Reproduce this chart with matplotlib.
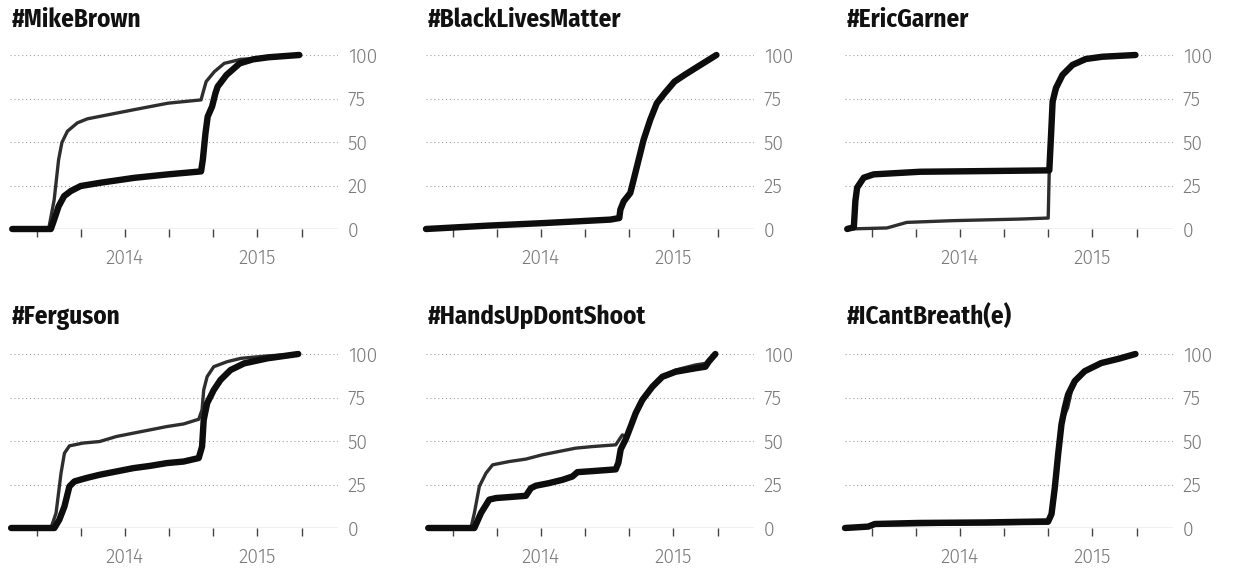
import matplotlib
matplotlib.use("Agg")
import matplotlib.pyplot as plt

# x values are months counted from Jan 2014 (0 = Jan 2014, 12 = Jan 2015)
titles = ["#MikeBrown", "#BlackLivesMatter", "#EricGarner",
          "#Ferguson", "#HandsUpDontShoot", "#ICantBreath(e)"]

ytick_vals = [0, 25, 50, 75, 100]
ytick_labels_mb = ["0", "20", "50", "75", "100"]
ytick_labels = ["0", "25", "50", "75", "100"]
xtick_vals = [-8, -4, 0, 4, 8, 12, 16]
xtick_labels = ["", "", "2014", "", "", "2015", ""]

# #MikeBrown
mb_thin_x = [-10.2, -6.9, -6.4, -6.0, -5.7, -5.2, -4.3, -3.4, -2.2, 0.85, 3.9, 6.9,
             7.06, 7.36, 8.1, 9.0, 10.5, 11.8, 13.0, 15.8]
mb_thin_y = [0, 0, 16.8, 39.8, 49.7, 56.2, 61.0, 63.3, 64.8, 68.6, 72.3, 74.2,
             78.0, 84.7, 90.4, 95.2, 97.5, 98.0, 98.7, 100]
mb_thick_x = [-10.2, -6.7, -6.4, -6.0, -5.5, -4.9, -4.0, -2.2, 0.85, 3.9, 6.9,
              7.06, 7.3, 7.5, 7.9, 8.2, 8.4, 9.2, 10.4, 11.6, 13.0, 15.8]
mb_thick_y = [0, 0, 5.4, 13.0, 18.9, 21.8, 24.7, 26.6, 29.4, 31.4, 33.1,
              39.8, 55.0, 64.6, 70.4, 78.0, 81.8, 88.5, 95.2, 97.5, 98.7, 100]

# #BlackLivesMatter
blm_thin_x = [-10.4, -4.9, 0.24, 3.3, 6.3, 7.1, 7.2, 7.5, 8.1, 8.7, 9.3, 9.9,
              10.5, 11.2, 12.1, 13.0, 14.2, 15.9]
blm_thin_y = [0, 1.9, 3.4, 4.4, 5.4, 6.3, 11.1, 15.9, 20.7, 35.9, 51.2, 62.7,
              72.3, 78.0, 84.7, 88.5, 93.3, 100]
blm_thick_x = [-10.4, -4.9, 0.24, 3.3, 6.3, 7.1, 7.2, 7.5, 8.1, 8.7, 9.3, 9.9,
               10.5, 11.2, 12.1, 13.0, 14.2, 15.9]
blm_thick_y = [0, 1.9, 3.4, 4.4, 5.4, 6.3, 11.1, 15.9, 20.7, 35.9, 51.2, 62.7,
               72.3, 78.0, 84.7, 88.5, 93.3, 100]

# #EricGarner
eg_thin_x = [-10.2, -6.6, -4.8, -0.6, 5.4, 8.0, 8.1, 8.26, 8.4, 8.56, 9.0, 9.6,
             10.5, 12.0, 15.9]
eg_thin_y = [0, 0.6, 3.8, 4.8, 5.7, 6.3, 35.0, 54.3, 69.5, 75.2, 84.8, 91.4,
             95.2, 98.1, 100]
eg_thick_x = [-10.2, -9.6, -9.46, -9.3, -8.7, -7.8, -3.6, 2.4, 8.1, 8.26, 8.4,
              8.7, 9.3, 10.2, 11.4, 12.9, 15.9]
eg_thick_y = [0, 1.0, 16.2, 23.8, 29.5, 31.4, 32.9, 33.3, 33.7, 54.3, 73.3,
              81.0, 88.6, 94.3, 97.7, 99.0, 100]

# #Ferguson
fe_thin_x = [-10.3, -6.69, -6.23, -5.78, -5.47, -5.02, -3.8, -2.28, -0.76, 0.76,
             2.28, 3.8, 5.32, 6.69, 6.99, 7.14, 7.45, 8.05, 9.27, 10.5, 12.9, 15.7]
fe_thin_y = [0, 0, 8.6, 31.5, 43.0, 47.2, 48.8, 49.7, 52.6, 54.5, 56.4, 58.3,
             59.8, 62.5, 67.9, 79.3, 87.0, 92.7, 95.6, 97.5, 98.9, 100]
fe_thick_x = [-10.3, -6.38, -5.93, -5.47, -5.02, -4.56, -3.5, -2.28, -0.76, 0.76,
              2.28, 3.8, 5.32, 6.69, 6.99, 7.14, 7.45, 8.05, 8.66, 9.57, 10.8,
              12.9, 15.7]
fe_thick_y = [0, 0, 4.8, 12.4, 23.9, 26.8, 28.7, 30.6, 32.5, 34.4, 35.7, 37.3,
              38.2, 40.2, 46.8, 62.1, 71.7, 79.3, 85.1, 90.8, 94.6, 97.5, 100]

# #HandsUpDontShoot
hu_thin_x = [-10.2, -6.33, -6.02, -5.57, -4.97, -4.37, -2.86, -1.36, 0.15, 1.66,
             3.16, 4.67, 6.78, 7.38, 7.83, 8.13, 8.58, 9.19, 10.1, 11.0, 12.2,
             14.0, 14.9, 15.8]
hu_thin_y = [0, 0, 8.6, 23.9, 31.5, 36.3, 38.2, 39.6, 42.1, 44.0, 45.9, 46.8,
             47.8, 53.5, 52.0, 58.3, 65.9, 73.6, 81.2, 86.9, 90.8, 93.7, 94.6, 100]
hu_thick_x = [-10.2, -6.02, -5.42, -4.67, -4.07, -1.36, -0.9, -0.45, 0.75, 1.96,
              2.86, 3.31, 4.67, 6.78, 7.02, 7.23, 7.68, 8.13, 8.58, 9.19, 10.1,
              11.0, 12.2, 14.0, 14.9, 15.2, 15.8]
hu_thick_y = [0, 0, 8.6, 16.3, 17.2, 18.5, 22.9, 24.3, 25.8, 27.7, 29.6, 32.1,
              32.7, 33.7, 37.5, 45.2, 50.9, 58.3, 65.9, 73.6, 81.2, 86.9, 89.8,
              91.8, 92.7, 95.6, 100]

# #ICantBreath(e)
ic_thin_x = [-10.4, -8.3, -7.7, 8.0, 8.3, 8.76, 9.06, 9.37, 9.76, 10.1, 10.7,
             11.6, 12.8, 14.4, 15.9]
ic_thin_y = [0, 0.4, 1.7, 2.7, 9.9, 34.7, 53.8, 63.4, 69.1, 78.6, 86.3, 91.6,
             95.2, 97.7, 100]
ic_thick_x = [-10.4, -8.3, -7.7, -3.8, 2.27, 8.0, 8.3, 8.6, 8.9, 9.2, 9.5, 9.8,
              10.4, 11.3, 12.8, 14.4, 15.9]
ic_thick_y = [0, 0.8, 2.3, 2.9, 3.2, 3.8, 8.0, 23.3, 42.4, 59.5, 69.1, 76.7,
              84.4, 90.1, 94.8, 97.3, 100]

panels = [
    (mb_thin_x, mb_thin_y, mb_thick_x, mb_thick_y, ytick_labels_mb),
    (blm_thin_x, blm_thin_y, blm_thick_x, blm_thick_y, ytick_labels),
    (eg_thin_x, eg_thin_y, eg_thick_x, eg_thick_y, ytick_labels),
    (fe_thin_x, fe_thin_y, fe_thick_x, fe_thick_y, ytick_labels),
    (hu_thin_x, hu_thin_y, hu_thick_x, hu_thick_y, ytick_labels),
    (ic_thin_x, ic_thin_y, ic_thick_x, ic_thick_y, ytick_labels),
]

W, H = 1235, 573
fig = plt.figure(figsize=(W / 100, H / 100), dpi=100)

col_left = [10, 426, 845]     # pixels
row_bottom = [229, 528]       # pixel row of the zero line
ax_w, ax_h = 328, 174

title_font = ["Fira Sans Condensed", "DejaVu Sans"]
tick_font = ["Fira Sans", "DejaVu Sans"]

for i, (tx, ty, kx, ky, ylabs) in enumerate(panels):
    r, c = divmod(i, 3)
    left = col_left[c]
    bottom = row_bottom[r]
    ax = fig.add_axes([left / W, 1 - bottom / H, ax_w / W, ax_h / H])

    for y in ytick_vals[1:]:
        ax.axhline(y, color="#a0a0a0", lw=0.8, ls=(0, (1, 2.5)), zorder=1)
    ax.axhline(0, color="#8a8a8a", lw=0.9, zorder=1)

    ax.plot(tx, ty, color="#2e2e2e", lw=2.4, solid_capstyle="round",
            solid_joinstyle="round", clip_on=False, zorder=3)
    ax.plot(kx, ky, color="#0d0d0d", lw=4.6, solid_capstyle="round",
            solid_joinstyle="round", clip_on=False, zorder=4)

    ax.set_xlim(-10.4, 19.3)
    ax.set_ylim(0, 100)
    for s in ax.spines.values():
        s.set_visible(False)

    ax.yaxis.tick_right()
    ax.set_yticks(ytick_vals)
    ax.set_yticklabels(ylabs, family=tick_font, fontweight=300,
                       fontsize=14, color="#7a7a7a")
    ax.tick_params(axis="y", length=0, pad=7)

    ax.set_xticks(xtick_vals)
    ax.set_xticklabels(xtick_labels, family=tick_font, fontweight=300,
                       fontsize=14, color="#7a7a7a")
    ax.tick_params(axis="x", direction="out", length=6, width=1,
                   color="#444444", pad=8)

    ty_px = 27 if r == 0 else 324
    fig.text(left / W + 0.001, 1 - ty_px / H, titles[i], family=title_font,
             fontweight="bold", fontsize=18, color="#111111",
             ha="left", va="baseline")

fig.savefig("out.png", dpi=100, facecolor="white")
